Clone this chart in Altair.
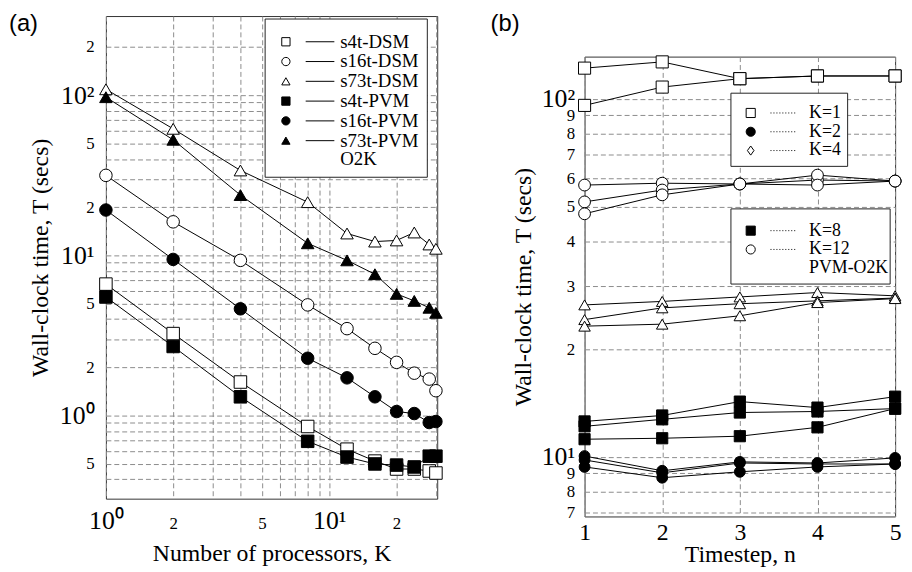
import altair as alt
import pandas as pd

SERIF = "Liberation Serif"
SANS = "Liberation Sans"

# ---------------- panel (a) data ----------------
processors = [1, 2, 4, 8, 12, 16, 20, 24, 28, 30]
series_names_a = ["s4t-DSM", "s16t-DSM", "s73t-DSM", "s4t-PVM", "s16t-PVM", "s73t-PVM"]
time_s4t_dsm = [6.62, 3.25, 1.62, 0.855, 0.617, 0.520, 0.464, 0.464, 0.451, 0.438]
time_s16t_dsm = [31.6, 16.2, 9.31, 4.91, 3.49, 2.63, 2.15, 1.84, 1.69, 1.43]
time_s73t_dsm = [108.9, 61.7, 33.9, 21.5, 13.7, 12.2, 12.4, 13.9, 11.7, 11.0]
time_s4t_pvm = [5.50, 2.70, 1.31, 0.691, 0.551, 0.499, 0.491, 0.478, 0.558, 0.558]
time_s16t_pvm = [19.2, 9.44, 4.64, 2.28, 1.72, 1.31, 1.06, 1.03, 0.905, 0.918]
time_s73t_pvm = [97.2, 52.7, 23.8, 11.9, 9.31, 7.63, 5.75, 5.20, 4.71, 4.38]
legend_a_note = "O2K"

# ---------------- panel (b) data ----------------
timesteps = [1, 2, 3, 4, 5]
k_groups = ["K=1", "K=2", "K=4", "K=8", "K=12"]
time_k1 = [[122, 127, 114, 116, 116], [96, 108, 114, 116, 116]]
time_k2 = [[57.5, 58.2, 57.9, 59.4, 59.0],
           [51.6, 55.7, 57.9, 61.3, 59.0],
           [47.8, 54.0, 57.9, 57.5, 59.0]]
time_k4 = [[26.6, 27.2, 28.0, 28.8, 28.2],
           [24.2, 26.1, 26.8, 27.3, 27.8],
           [23.2, 23.5, 24.8, 27.0, 27.7]]
time_k8 = [[12.57, 13.06, 14.28, 13.74, 14.74],
           [12.18, 12.74, 13.31, 13.40, 13.65],
           [11.21, 11.28, 11.43, 12.10, 13.65]]
time_k12 = [[10.06, 9.15, 9.69, 9.62, 9.94],
            [9.81, 9.03, 9.62, 9.56, 9.56],
            [9.38, 8.75, 9.09, 9.38, 9.56]]
legend_b_note = "PVM-O2K"

# ---------------- tick labels ----------------
xa_tick_values = [1, 2, 5, 10, 20]
xa_tick_labels = ["10⁰", "2", "5", "10¹", "2"]
ya_tick_values = [0.5, 1, 2, 5, 10, 20, 50, 100, 200]
ya_tick_labels = ["5", "10⁰", "2", "5", "10¹", "2", "5", "10²", "2"]
xb_tick_values = [1, 2, 3, 4, 5]
xb_tick_labels = ["1", "2", "3", "4", "5"]
yb_tick_values = [7, 8, 9, 10, 20, 30, 40, 50, 60, 70, 80, 90, 100]
yb_tick_labels = ["7", "8", "9", "10¹", "2", "3", "4", "5", "6", "7", "8", "9", "10²"]

# ---------------- build tables ----------------
series_a = [time_s4t_dsm, time_s16t_dsm, time_s73t_dsm, time_s4t_pvm, time_s16t_pvm, time_s73t_pvm]
rows = []
for name, vals in zip(series_names_a, series_a):
    for k, t in zip(processors, vals):
        rows.append({"K": k, "T": t, "series": name})
df_a = pd.DataFrame(rows)

rows = []
for g, runs in zip(k_groups, [time_k1, time_k2, time_k4, time_k8, time_k12]):
    for r, vals in enumerate(runs):
        for n, t in zip(timesteps, vals):
            rows.append({"n": n, "T": t, "K": g, "run": f"{g}-{r}"})
df_b = pd.DataFrame(rows)


def lab_expr(vals, labs):
    expr = "''"
    for v, l in reversed(list(zip(vals, labs))):
        expr = f"datum.value == {v} ? '{l}' : ({expr})"
    return expr


def big_test(vals):
    return " || ".join(f"datum.value == {v}" for v in vals)


def decade_grid(lo, hi, e0, e1):
    out = []
    for e in range(e0, e1 + 1):
        for m in range(1, 10):
            v = round(m * 10 ** e, 6)
            if lo <= v <= hi:
                out.append(v)
    return out


DIAMOND = "M0,-1L0.72,0L0,1L-0.72,0Z"
BIG, SMALL = 26, 17

# ---------------- panel (a) ----------------
W_A, H_A = 335, 488
xa = alt.X("K:Q",
           scale=alt.Scale(type="log", domain=[1, 30.4], nice=False),
           axis=alt.Axis(values=decade_grid(1, 30.4, 0, 1),
                         labelExpr=lab_expr(xa_tick_values, xa_tick_labels),
                         labelFontSize={"condition": {"test": big_test([1, 10]), "value": BIG}, "value": SMALL},
                         labelBaseline="alphabetic", labelPadding=30, labelOverlap=False,
                         labelFlush=False,
                         title="Number of processors, K", titleY=63, titleBaseline="alphabetic"))
ya = alt.Y("T:Q",
           scale=alt.Scale(type="log", domain=[0.303, 312], nice=False),
           axis=alt.Axis(values=decade_grid(0.303, 250, -1, 2),
                         labelExpr=lab_expr(ya_tick_values, ya_tick_labels),
                         labelFontSize={"condition": {"test": big_test([1, 10, 100]), "value": BIG}, "value": SMALL},
                         labelPadding=12, labelOverlap=False,
                         title="Wall-clock time, T (secs)", titleX=-54))

base_a = alt.Chart(df_a)
lines_a = base_a.mark_line(color="black", strokeWidth=1).encode(x=xa, y=ya, detail="series:N")
points_a = base_a.mark_point(filled=True, stroke="black", strokeWidth=1, size=160, opacity=1).encode(
    x=xa, y=ya,
    shape=alt.Shape("series:N", scale=alt.Scale(domain=series_names_a,
                    range=["square", "circle", "triangle-up", "square", "circle", "triangle-up"]), legend=None),
    fill=alt.Fill("series:N", scale=alt.Scale(domain=series_names_a,
                  range=["white", "white", "white", "black", "black", "black"]), legend=None),
)


def one(label):
    return pd.DataFrame({"label": [label]})


def legend_layers(entries, box, sym_x, line_x, text_x, row_ys, note, note_y, dash, sym_size, font_size):
    layers = [alt.Chart(one("box")).mark_rect(fill="white", stroke="#222", strokeWidth=1).encode(
        x=alt.value(box[0]), x2=alt.value(box[1]), y=alt.value(box[2]), y2=alt.value(box[3]))]
    for (label, shape, fill), y in zip(entries, row_ys):
        layers.append(alt.Chart(one(label)).mark_point(shape=shape, filled=True, fill=fill, stroke="black",
                                                      strokeWidth=1, size=sym_size, opacity=1).encode(
            x=alt.value(sym_x), y=alt.value(y)))
        rule_kw = {"color": "black", "strokeWidth": 1}
        if dash:
            rule_kw["strokeDash"] = dash
        layers.append(alt.Chart(one(label)).mark_rule(**rule_kw).encode(
            x=alt.value(line_x[0]), x2=alt.value(line_x[1]), y=alt.value(y)))
        layers.append(alt.Chart(one(label)).mark_text(font=SERIF, fontSize=font_size, align="left",
                                                     baseline="middle", color="black").encode(
            text="label:N", x=alt.value(text_x), y=alt.value(y)))
    if note:
        layers.append(alt.Chart(one(note)).mark_text(font=SERIF, fontSize=font_size, align="left",
                                                    baseline="middle", color="black").encode(
            text="label:N", x=alt.value(text_x), y=alt.value(note_y)))
    return layers


entries_a = list(zip(series_names_a,
                     ["square", "circle", "triangle-up", "square", "circle", "triangle-up"],
                     ["white", "white", "white", "black", "black", "black"]))
leg_a = legend_layers(entries_a, (161, 325, 3, 163), 182, (202, 231), 237,
                      [26 + 20 * i for i in range(6)], legend_a_note, 145, None, 70, 19)

label_a = alt.Chart(one("(a)")).mark_text(font=SANS, fontSize=24, align="left", baseline="top",
                                           color="black").encode(
    text="label:N", x=alt.value(-98), y=alt.value(-4))

left = alt.layer(lines_a, points_a, *leg_a, label_a).properties(width=W_A, height=H_A)

# ---------------- panel (b) ----------------
W_B, H_B = 314, 465
xb = alt.X("n:Q",
           scale=alt.Scale(domain=[1, 5], nice=False),
           axis=alt.Axis(values=xb_tick_values,
                         labelExpr=lab_expr(xb_tick_values, xb_tick_labels),
                         labelFontSize=24, labelBaseline="alphabetic", labelPadding=23,
                         labelFlush=False, labelOverlap=False,
                         title="Timestep, n", titleY=46, titleBaseline="alphabetic"))
yb = alt.Y("T:Q",
           scale=alt.Scale(type="log", domain=[6.82, 131.4], nice=False),
           axis=alt.Axis(values=yb_tick_values,
                         labelExpr=lab_expr(yb_tick_values, yb_tick_labels),
                         labelFontSize={"condition": {"test": big_test([10, 100]), "value": BIG}, "value": SMALL},
                         labelPadding=10, labelOverlap=False,
                         title="Wall-clock time, T (secs)", titleX=-50))

shapes_b = ["square", "circle", DIAMOND, "square", "circle"]
fills_b = ["white", "black", "white", "black", "white"]
sizes_b = [150, 120, 200, 170, 150]

base_b = alt.Chart(df_b)
lines_b = base_b.mark_line(color="black", strokeWidth=1).encode(x=xb, y=yb, detail="run:N")
points_b = base_b.mark_point(filled=True, stroke="black", strokeWidth=1, opacity=1).encode(
    x=xb, y=yb,
    shape=alt.Shape("K:N", scale=alt.Scale(domain=k_groups, range=shapes_b), legend=None),
    fill=alt.Fill("K:N", scale=alt.Scale(domain=k_groups, range=fills_b), legend=None),
    size=alt.Size("K:N", scale=alt.Scale(domain=k_groups, range=sizes_b), legend=None),
)

entries_b1 = list(zip(k_groups[:3], shapes_b[:3], fills_b[:3]))
entries_b2 = list(zip(k_groups[3:], shapes_b[3:], fills_b[3:]))
leg_b1 = legend_layers(entries_b1, (148, 266, 37, 111), 168, (188, 215), 227,
                       [57, 76, 95], None, 0, [1, 2], 85, 18)
leg_b2 = legend_layers(entries_b2, (148, 309, 154, 230), 168, (188, 215), 227,
                       [176, 195], legend_b_note, 214, [1, 2], 85, 18)

right = alt.layer(lines_b, points_b, *leg_b1, *leg_b2).properties(width=W_B, height=H_B)

# spacer holding the "(b)" label, pushes panel (b) down
label_b = alt.Chart(one("(b)")).mark_text(font=SANS, fontSize=24, align="left", baseline="top",
                                           color="black").encode(
    text="label:N", x=alt.value(-95), y=alt.value(-4))
spacer = label_b.properties(width=W_B, height=41,
                            view=alt.ViewBackground(stroke="transparent", fill="transparent"))

right_col = alt.vconcat(spacer, right, spacing=0, bounds="flush")

chart = alt.hconcat(left, right_col, spacing=149, bounds="flush").properties(
    padding={"left": 0, "top": 0, "right": 0, "bottom": 0},
    background="white",
).configure_view(stroke="#333", strokeWidth=1).configure_axis(
    grid=True, gridColor="#8c8c8c", gridDash=[5, 3], gridWidth=1,
    domain=False, ticks=False,
    labelFont=SERIF, titleFont=SERIF, titleFontWeight="normal", titleFontSize=24,
    labelColor="black", titleColor="black",
)

chart.save("out.html", embed_options={"renderer": "svg", "actions": False})
